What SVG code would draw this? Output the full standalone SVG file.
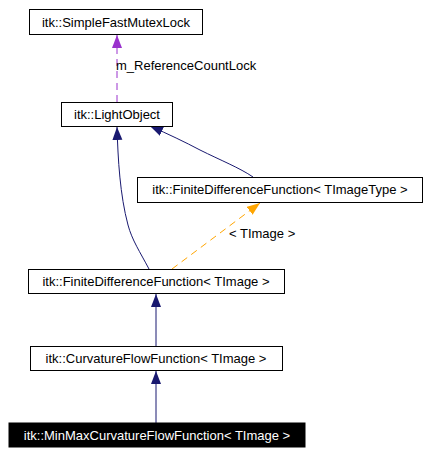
<svg xmlns="http://www.w3.org/2000/svg" width="430" height="455" viewBox="0 0 430 455">
<style>
text{font-family:"Liberation Sans",Arial,sans-serif;font-size:13px;}
.n rect{fill:#fff;stroke:#000;stroke-width:1;}
.n text{text-anchor:middle;fill:#000;}
.e{fill:none;stroke:#191970;stroke-width:1;}
.lbl{fill:#000;}
</style>
<defs>
<marker id="ab" markerWidth="13" markerHeight="12" refX="13" refY="5" orient="auto" markerUnits="userSpaceOnUse"><path d="M0,0 L13,5 L0,10 Z" fill="#191970"/></marker>
<marker id="ap" markerWidth="13" markerHeight="12" refX="13" refY="5" orient="auto" markerUnits="userSpaceOnUse"><path d="M0,0 L13,5 L0,10 Z" fill="#9a32cd"/></marker>
<marker id="ao" markerWidth="13" markerHeight="12" refX="13" refY="5" orient="auto" markerUnits="userSpaceOnUse"><path d="M0,0 L13,5 L0,10 Z" fill="#ffa500"/></marker>
</defs>
<rect width="430" height="455" fill="#fff"/>
<g id="edges">
<path class="e" d="M117,102 L117,35" style="stroke:#9a32cd;stroke-dasharray:7,5" marker-end="url(#ap)"/>
<text class="lbl" x="116" y="70">m_ReferenceCountLock</text>
<path class="e" d="M253,177 C240,168 220,160 200,150 C185,142 168,134 150,126" marker-end="url(#ab)"/>
<path class="e" d="M149,269 C140,252 132,240 128,225 C120,195 118,160 117,127" marker-end="url(#ab)"/>
<path class="e" d="M172,269 L260,203" style="stroke:#ffa500;stroke-dasharray:7,5" marker-end="url(#ao)"/>
<text class="lbl" x="229" y="238">&lt; TImage &gt;</text>
<path class="e" d="M156,346 L156,294" marker-end="url(#ab)"/>
<path class="e" d="M156,423 L156,371" marker-end="url(#ab)"/>
</g>
<g id="SimpleFastMutexLock" class="n"><rect x="29.5" y="9.5" width="173" height="25"/><text x="116" y="26.5">itk::SimpleFastMutexLock</text></g>
<g id="LightObject" class="n"><rect x="61.5" y="102.5" width="111" height="24"/><text x="117" y="119">itk::LightObject</text></g>
<g id="FDFTImageType" class="n"><rect x="137.5" y="177.5" width="285" height="25"/><text x="280" y="194">itk::FiniteDifferenceFunction&lt; TImageType &gt;</text></g>
<g id="FDFTImage" class="n"><rect x="28.5" y="269.5" width="256" height="24"/><text x="156" y="286">itk::FiniteDifferenceFunction&lt; TImage &gt;</text></g>
<g id="CurvatureFlowFunction" class="n"><rect x="30.5" y="346.5" width="252" height="24"/><text x="156" y="363">itk::CurvatureFlowFunction&lt; TImage &gt;</text></g>
<g id="MinMaxCurvatureFlowFunction" class="n"><rect x="9" y="423" width="296" height="24" style="fill:#000;stroke:#000"/><text x="157" y="440" style="fill:#fff">itk::MinMaxCurvatureFlowFunction&lt; TImage &gt;</text></g>
</svg>
